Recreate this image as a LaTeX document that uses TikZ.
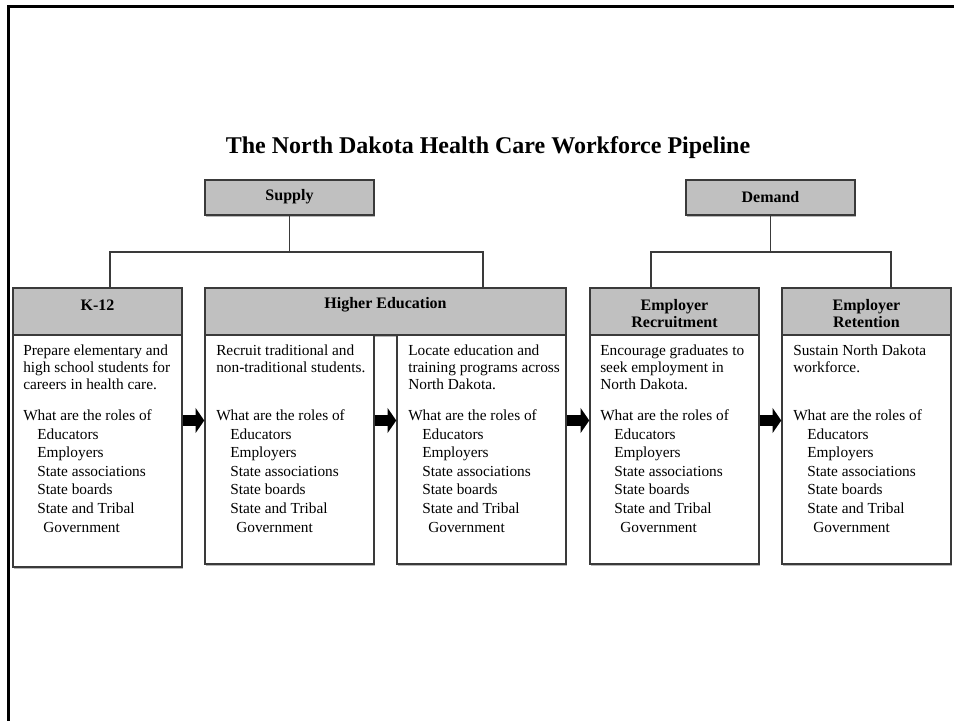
\documentclass[tikz,border=0pt]{standalone}
\usepackage{fontspec}
\setmainfont{Liberation Serif}
\usetikzlibrary{arrows.meta,shadows}
\definecolor{boxgray}{HTML}{C0C0C0}
\definecolor{edge}{HTML}{3A3A3A}
\newcommand{\rolelist}{What are the roles of\\\hspace*{10.5pt}Educators\\\hspace*{10.5pt}Employers\\\hspace*{10.5pt}State associations\\\hspace*{10.5pt}State boards\\\hspace*{10.5pt}State and Tribal\\\hspace*{15pt}Government}
\tikzset{
  x=0.75pt, y=-0.75pt,
  boxbase/.style={draw=edge, line width=1.1pt, rectangle, inner sep=0pt,
    drop shadow={shadow xshift=0.6pt, shadow yshift=-1.2pt, fill=gray!70, opacity=0.8}},
  hdr/.style={boxbase, fill=boxgray, minimum width=126.75pt, minimum height=35.25pt},
  topbox/.style={boxbase, fill=boxgray, minimum width=126.75pt, minimum height=26.25pt},
  bodybox/.style={boxbase, fill=white, minimum width=126.75pt, minimum height=171.75pt},
  hdrtxt/.style={font=\fontsize{12}{12.75}\selectfont\bfseries, align=center, inner sep=0pt},
  desc/.style={font=\fontsize{11.5}{12.75}\selectfont, align=left, anchor=base west, inner sep=0pt},
  roles/.style={font=\fontsize{11.5}{13.9}\selectfont, align=left, anchor=base west, inner sep=0pt},
  conn/.style={draw=edge, line width=1.1pt},
  blockarrow/.style={line width=8pt, -{Triangle[length=6.5pt,width=18.5pt]}}
}
\begin{document}
\begin{tikzpicture}
\useasboundingbox (0,0) rectangle (954,721);
% frame
\draw[line width=2.25pt, line cap=rect] (8.5,721) -- (8.5,6) -- (954,6);
% title
\node[font=\fontsize{18}{20}\selectfont\bfseries] (title) at (488,148) {The North Dakota Health Care Workforce Pipeline};
% top boxes
\node[topbox] (supply) at (289.5,197.5) {};
\node[hdrtxt] (supplyt) at (289.5,197) {Supply};
\node[topbox] (demand) at (770.5,197.5) {};
\node[hdrtxt] (demandt) at (770.5,197) {Demand};
% connectors
\coordinate (sbus) at (289.5,252);
\coordinate (sleft) at (110,252);
\coordinate (sright) at (483,252);
\coordinate (k12top) at (110,288);
\coordinate (hetop) at (483,288);
\coordinate (dbus) at (770.5,252);
\coordinate (dleft) at (651,252);
\coordinate (dright) at (891,252);
\coordinate (ertop) at (651,288);
\coordinate (ettop) at (891,288);
\draw[conn] (supply.south) -- (sbus);
\draw[conn] (k12top) -- (sleft) -- (sright) -- (hetop);
\draw[conn] (demand.south) -- (dbus);
\draw[conn] (ertop) -- (dleft) -- (dright) -- (ettop);
% headers
\node[hdr] (k12h) at (97.5,311.5) {};
\node[hdr, minimum width=270.75pt] (heh) at (385.5,311.5) {};
\node[hdr] (erh) at (674.5,311.5) {};
\node[hdr] (eth) at (866.5,311.5) {};
\node[hdrtxt] (k12t) at (97.5,305) {K-12};
\node[hdrtxt] (het) at (385.5,305) {Higher Education};
\node[hdrtxt] (ert) at (674.5,313.5) {Employer\\Recruitment};
\node[hdrtxt] (ett) at (866.5,313.5) {Employer\\Retention};
% bodies
\node[bodybox, minimum height=174pt] (k12b) at (97.5,451) {};
\node[bodybox] (helb) at (289.5,449.5) {};
\node[bodybox] (herb) at (481.5,449.5) {};
\node[bodybox] (erb) at (674.5,449.5) {};
\node[bodybox] (etb) at (866.5,449.5) {};
% header bottom edges above body shadows
\draw[conn] (k12h.south west) -- (k12h.south east);
\draw[conn] (heh.south west) -- (heh.south east);
\draw[conn] (erh.south west) -- (erh.south east);
\draw[conn] (eth.south west) -- (eth.south east);
% descriptions (anchor = baseline of last line)
\node[desc] (k12d) at (23,389) {Prepare elementary and\\high school students for\\careers in health care.};
\node[desc] (held) at (216,372) {Recruit traditional and\\non-traditional students.};
\node[desc] (herd) at (408,389) {Locate education and\\training programs across\\North Dakota.};
\node[desc] (erd) at (600,389) {Encourage graduates to\\seek employment in\\North Dakota.};
\node[desc] (etd) at (793,372) {Sustain North Dakota\\workforce.};
% roles (anchor = baseline of last line)
\node[roles] (k12r) at (23,532) {\rolelist};
\node[roles] (helr) at (216,532) {\rolelist};
\node[roles] (herr) at (408,532) {\rolelist};
\node[roles] (err) at (600,532) {\rolelist};
\node[roles] (etr) at (793,532) {\rolelist};
% arrows
\coordinate (ay) at (0,420.5);
\draw[blockarrow] (k12b.east |- ay) -- (helb.west |- ay);
\draw[blockarrow] (helb.east |- ay) -- (herb.west |- ay);
\draw[blockarrow] (herb.east |- ay) -- (erb.west |- ay);
\draw[blockarrow] (erb.east |- ay) -- (etb.west |- ay);
\end{tikzpicture}
\end{document}
